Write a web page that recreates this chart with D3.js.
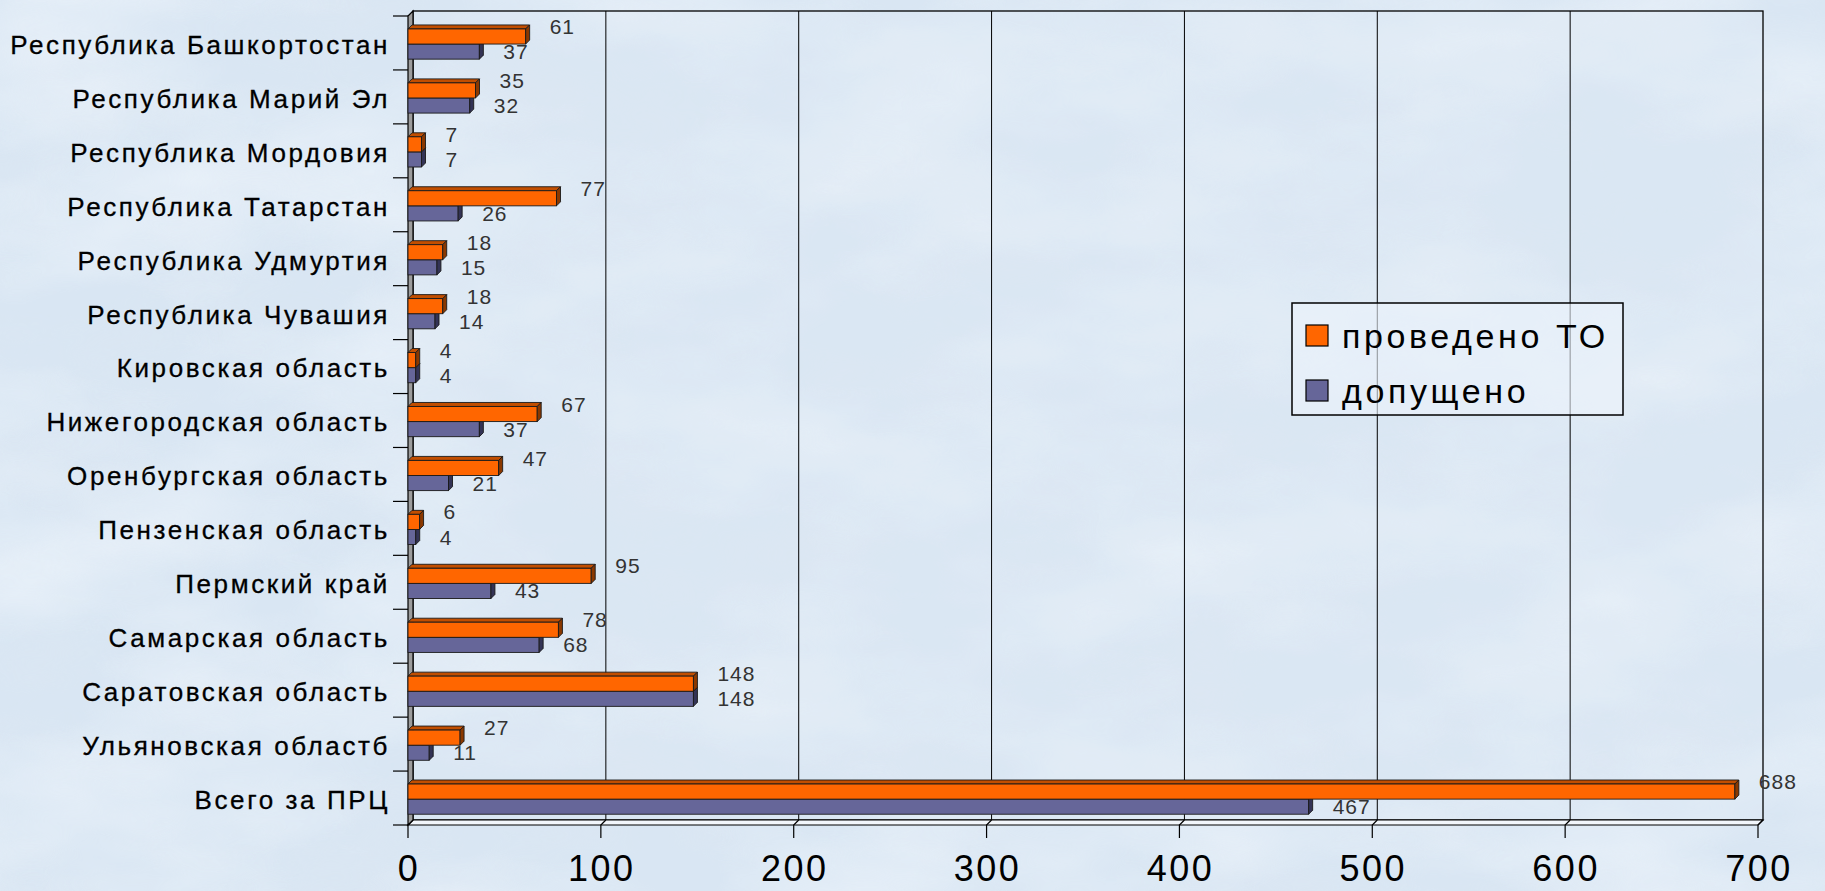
<!DOCTYPE html>
<html>
<head>
<meta charset="utf-8">
<script src="https://cdn.jsdelivr.net/npm/d3@7"></script>
<style>
  html, body { margin: 0; padding: 0; background: #d9e6f3; }
  svg { display: block; }
</style>
</head>
<body>
<svg id="chart" width="1825" height="891"></svg>
<script>
// ---- data ----
const categories = [
  "Республика Башкортостан",
  "Республика Марий Эл",
  "Республика Мордовия",
  "Республика Татарстан",
  "Республика Удмуртия",
  "Республика Чувашия",
  "Кировская область",
  "Нижегородская область",
  "Оренбургская область",
  "Пензенская область",
  "Пермский край",
  "Самарская область",
  "Саратовская область",
  "Ульяновская областб",
  "Всего за ПРЦ"
];
const seriesNames = ["проведено ТО", "допущено"];
const provedenoTO = [61, 35, 7, 77, 18, 18, 4, 67, 47, 6, 95, 78, 148, 27, 688];
const dopuscheno  = [37, 32, 7, 26, 15, 14, 4, 37, 21, 4, 43, 68, 148, 11, 467];
const xTickValues = [0, 100, 200, 300, 400, 500, 600, 700];

// ---- layout ----
const W = 1825, H = 891;
const frontLeft = 408, frontRight = 1758, frontTop = 16, frontBottom = 825;
const depthX = 5, depthY = 5;        // wall depth
const barDX = 4, barDY = 4;          // bar depth
const colors = {
  "проведено ТО": { front: "#ff6600", top: "#c24e00", side: "#8a3800" },
  "допущено":     { front: "#666699", top: "#4d4d7a", side: "#333355" }
};

const svg = d3.select("#chart");
const defs = svg.append("defs");
const f = defs.append("filter").attr("id", "clouds")
  .attr("x", 0).attr("y", 0).attr("width", "100%").attr("height", "100%")
  .attr("filterUnits", "userSpaceOnUse");
f.append("feTurbulence").attr("type", "fractalNoise")
  .attr("baseFrequency", "0.004 0.008").attr("numOctaves", 4).attr("seed", 11);
f.append("feColorMatrix").attr("type", "matrix")
  .attr("values", "0 0 0 0 0.93  0 0 0 0 0.965  0 0 0 0 1  1.5 0 0 0 -0.55");
const f2 = defs.append("filter").attr("id", "clouds2")
  .attr("x", 0).attr("y", 0).attr("width", "100%").attr("height", "100%")
  .attr("filterUnits", "userSpaceOnUse");
f2.append("feTurbulence").attr("type", "fractalNoise")
  .attr("baseFrequency", "0.007 0.014").attr("numOctaves", 3).attr("seed", 3);
f2.append("feColorMatrix").attr("type", "matrix")
  .attr("values", "0 0 0 0 0.74  0 0 0 0 0.81  0 0 0 0 0.89  1.5 0 0 0 -0.6");

// background
svg.append("rect").attr("width", W).attr("height", H).attr("fill", "#d9e6f3");
svg.append("rect").attr("width", W).attr("height", H).attr("filter", "url(#clouds2)").attr("opacity", 0.45);
svg.append("rect").attr("width", W).attr("height", H).attr("filter", "url(#clouds)").attr("opacity", 0.6);

// scales
const x = d3.scaleLinear().domain([0, 700]).range([frontLeft, frontRight]);
const y = d3.scaleBand().domain(categories).range([frontTop, frontBottom]).paddingInner(0).paddingOuter(0);
const bw = y.bandwidth();
const sub = d3.scaleBand().domain(seriesNames).range([bw * 0.24, bw * 0.80]);

const g = svg.append("g");

// back wall
const backLeft = frontLeft + depthX, backRight = frontRight + depthX;
const backTop = frontTop - depthY, backBottom = frontBottom - depthY;
g.append("rect")
  .attr("x", backLeft).attr("y", backTop)
  .attr("width", backRight - backLeft).attr("height", backBottom - backTop)
  .attr("fill", "rgba(225,236,247,0.2)").attr("stroke", "#000").attr("stroke-width", 1.3);

// gridlines on back wall
g.selectAll(".grid").data(xTickValues.slice(1, -1)).join("line")
  .attr("x1", d => x(d) + depthX).attr("x2", d => x(d) + depthX)
  .attr("y1", backTop).attr("y2", backBottom)
  .attr("stroke", "#000").attr("stroke-width", 1);

// floor
g.append("path")
  .attr("d", `M${frontLeft},${frontBottom} L${backLeft},${backBottom} L${backRight},${backBottom} L${frontRight},${frontBottom} Z`)
  .attr("fill", "#f2f6fb").attr("stroke", "#000").attr("stroke-width", 1.2);

// floor diagonals + ticks
g.selectAll(".fd").data(xTickValues).join("path")
  .attr("d", d => `M${x(d) + depthX},${backBottom} L${x(d)},${frontBottom} L${x(d)},${frontBottom + 13}`)
  .attr("fill", "none").attr("stroke", "#000").attr("stroke-width", 1.2);

// left wall
g.append("path")
  .attr("d", `M${frontLeft},${frontTop} L${backLeft},${backTop} L${backLeft},${backBottom} L${frontLeft},${frontBottom} Z`)
  .attr("fill", "#9c9c9c").attr("stroke", "#000").attr("stroke-width", 1.2);

// category ticks
const catTicks = categories.map(c => y(c)).concat([frontBottom]);
g.selectAll(".ct").data(catTicks).join("line")
  .attr("x1", frontLeft - 15).attr("x2", frontLeft)
  .attr("y1", d => d).attr("y2", d => d)
  .attr("stroke", "#000").attr("stroke-width", 1.2);

// bars
const rows = categories.map((c, i) => ({ c, vals: [
  { s: "допущено", v: dopuscheno[i] },
  { s: "проведено ТО", v: provedenoTO[i] }
]}));

function drawBar(sel, d, cat) {
  const x0 = x(0), x1 = x(d.v);
  const yy = y(cat) + sub(d.s), h = sub.bandwidth();
  const col = colors[d.s];
  const bg = sel.append("g");
  bg.append("path")
    .attr("d", `M${x0},${yy} L${x0 + barDX},${yy - barDY} L${x1 + barDX},${yy - barDY} L${x1},${yy} Z`)
    .attr("fill", col.top).attr("stroke", "#1a1a1a").attr("stroke-width", 0.9).attr("stroke-linejoin", "round");
  bg.append("rect")
    .attr("x", x0).attr("y", yy).attr("width", Math.max(0, x1 - x0)).attr("height", h)
    .attr("fill", col.front).attr("stroke", "#1a1a1a").attr("stroke-width", 0.9);
  bg.append("path")
    .attr("d", `M${x1},${yy} L${x1 + barDX},${yy - barDY} L${x1 + barDX},${yy + h - barDY} L${x1},${yy + h} Z`)
    .attr("fill", col.side).attr("stroke", "#1a1a1a").attr("stroke-width", 0.9).attr("stroke-linejoin", "round");
}

const barsG = g.append("g");
rows.forEach(r => {
  r.vals.forEach(d => drawBar(barsG, d, r.c));
});

// value labels
const labG = g.append("g")
  .attr("font-family", "'Liberation Sans', Arial, sans-serif")
  .attr("font-size", 21).attr("fill", "#333");
rows.forEach(r => {
  r.vals.forEach(d => {
    const yy = y(r.c) + sub(d.s) + sub.bandwidth() / 2 + (d.s === "проведено ТО" ? -8 : 2);
    labG.append("text")
      .attr("x", x(d.v) + 24).attr("y", yy)
      .attr("dominant-baseline", "middle")
      .attr("letter-spacing", 1)
      .text(d.v);
  });
});

// category labels
g.append("g").selectAll("text").data(categories).join("text")
  .attr("x", 390).attr("y", d => y(d) + bw / 2 + 4)
  .attr("text-anchor", "end").attr("dominant-baseline", "middle")
  .attr("font-family", "'Liberation Sans', Arial, sans-serif")
  .attr("font-size", 26).attr("letter-spacing", 2.6).attr("fill", "#000")
  .attr("stroke", "#000").attr("stroke-width", 0.3)
  .text(d => d);

// x tick labels
g.append("g").selectAll("text").data(xTickValues).join("text")
  .attr("x", d => x(d) + 1).attr("y", 881)
  .attr("text-anchor", "middle")
  .attr("font-family", "'Liberation Sans', Arial, sans-serif")
  .attr("font-size", 36).attr("letter-spacing", 2.5).attr("fill", "#000")
  .text(d => d);

// legend
const lg = svg.append("g");
lg.append("rect").attr("x", 1292).attr("y", 303).attr("width", 331).attr("height", 112)
  .attr("fill", "rgba(236,244,251,0.6)").attr("stroke", "#000").attr("stroke-width", 1.5);
seriesNames.forEach((s, i) => {
  const yy = 325 + i * 55;
  lg.append("rect").attr("x", 1306).attr("y", yy).attr("width", 22).attr("height", 21)
    .attr("fill", colors[s].front).attr("stroke", "#000").attr("stroke-width", 1.2);
  lg.append("text").attr("x", 1342).attr("y", yy + 23)
    .attr("font-family", "'Liberation Sans', Arial, sans-serif")
    .attr("font-size", 34).attr("letter-spacing", 3.6).attr("fill", "#000")
    .text(s);
});
</script>
</body>
</html>
